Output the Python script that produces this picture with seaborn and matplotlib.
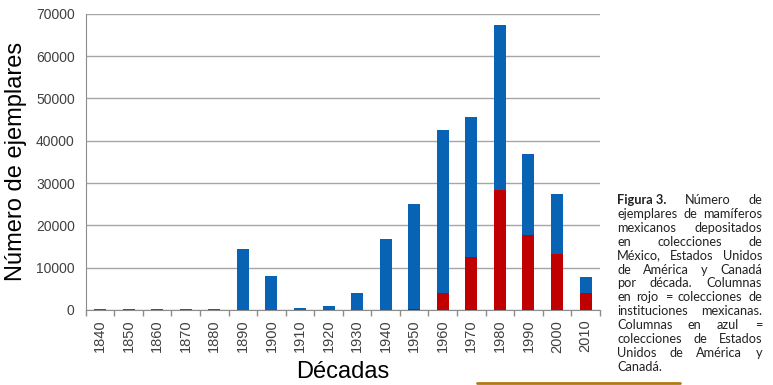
import pandas as pd
import matplotlib
matplotlib.use("Agg")
import matplotlib.pyplot as plt
import seaborn as sns

decadas = ["1840", "1850", "1860", "1870", "1880", "1890", "1900", "1910", "1920",
           "1930", "1940", "1950", "1960", "1970", "1980", "1990", "2000", "2010"]
# colecciones de instituciones mexicanas (rojo)
mexico = [0, 0, 0, 0, 0, 0, 0, 0, 0, 0, 0, 250, 3950, 12500, 28400, 17700, 13200, 3950]
# colecciones de Estados Unidos y Canada (azul)
eua_canada = [150, 150, 150, 150, 150, 14300, 8000, 400, 950, 4100, 16800, 24800,
              38700, 33200, 39000, 19200, 14300, 3900]

caption_lines = [
    "Figura 3.  Número de",
    "ejemplares de mamíferos",
    "mexicanos depositados",
    "en colecciones de",
    "México, Estados Unidos",
    "de América y Canadá",
    "por década.  Columnas",
    "en rojo = colecciones de",
    "instituciones mexicanas.",
    "Columnas en azul =",
    "colecciones de Estados",
    "Unidos de América y",
    "Canadá.",
]

df = pd.DataFrame({"decada": decadas, "mexico": mexico, "eua": eua_canada})
df["total"] = df["mexico"] + df["eua"]

sns.set_style("white")
plt.rcParams["font.family"] = ["Liberation Sans", "DejaVu Sans"]

fig = plt.figure(figsize=(7.73, 3.85), dpi=100)
ax = fig.add_axes([0.111, 0.195, 0.665, 0.769])

sns.barplot(data=df, x="decada", y="total", color="#0863B5", width=0.42,
            saturation=1, linewidth=0, ax=ax, zorder=3)
sns.barplot(data=df, x="decada", y="mexico", color="#C00000", width=0.42,
            saturation=1, linewidth=0, ax=ax, zorder=4)

ax.set_ylim(0, 70000)
ax.set_xlim(-0.5, len(decadas) - 0.5)
ax.set_yticks(range(0, 70001, 10000))
ax.yaxis.grid(True, color="#A6A6A6", linewidth=1, zorder=0)
ax.set_axisbelow(True)
for s in ["top", "right"]:
    ax.spines[s].set_visible(False)
ax.spines["left"].set_color("#8C8C8C")
ax.spines["bottom"].set_color("#8C8C8C")

ax.tick_params(axis="y", length=0, labelsize=10, colors="#404040", pad=8)
ax.tick_params(axis="x", which="major", length=0, labelsize=10.5, colors="#404040",
               labelrotation=90, pad=7)
ax.set_xticks([i - 0.5 for i in range(len(decadas) + 1)], minor=True)
ax.tick_params(axis="x", which="minor", bottom=True, length=4, width=1, color="#8C8C8C")

ax.set_ylabel("Número de ejemplares", fontsize=17, color="black", labelpad=6)
ax.set_xlabel("Décadas", fontsize=17, color="black", labelpad=6)

# caption, justified line by line
W, H = 773, 385
cap_left, cap_right = 617, 762
cap_top, line_h = 204, 13.9
renderer = fig.canvas.get_renderer()
cap_font = ["Lato", "DejaVu Sans"]
for n, line in enumerate(caption_lines):
    y = 1 - (cap_top + n * line_h) / H
    if n == 0:
        tokens = [("Figura 3.", "bold"), ("Número", "normal"), ("de", "normal")]
    else:
        tokens = [(w, "normal") for w in line.split()]
    texts = []
    widths = []
    for word, weight in tokens:
        t = fig.text(0, y, word, fontsize=9.2, family=cap_font, weight=weight,
                     color="#222222", va="baseline", ha="left")
        texts.append(t)
        widths.append(t.get_window_extent(renderer).width)
    if n == len(caption_lines) - 1 or len(tokens) == 1:
        gap = 3
    else:
        gap = (cap_right - cap_left - sum(widths)) / (len(tokens) - 1)
    x = cap_left
    for t, w in zip(texts, widths):
        t.set_x(x / W)
        x += w + gap

fig.add_artist(plt.Line2D([477 / W, 680 / W], [1 - 383 / H] * 2, color="#B07A12",
                          linewidth=2, transform=fig.transFigure))

fig.savefig("out.png", dpi=100)
